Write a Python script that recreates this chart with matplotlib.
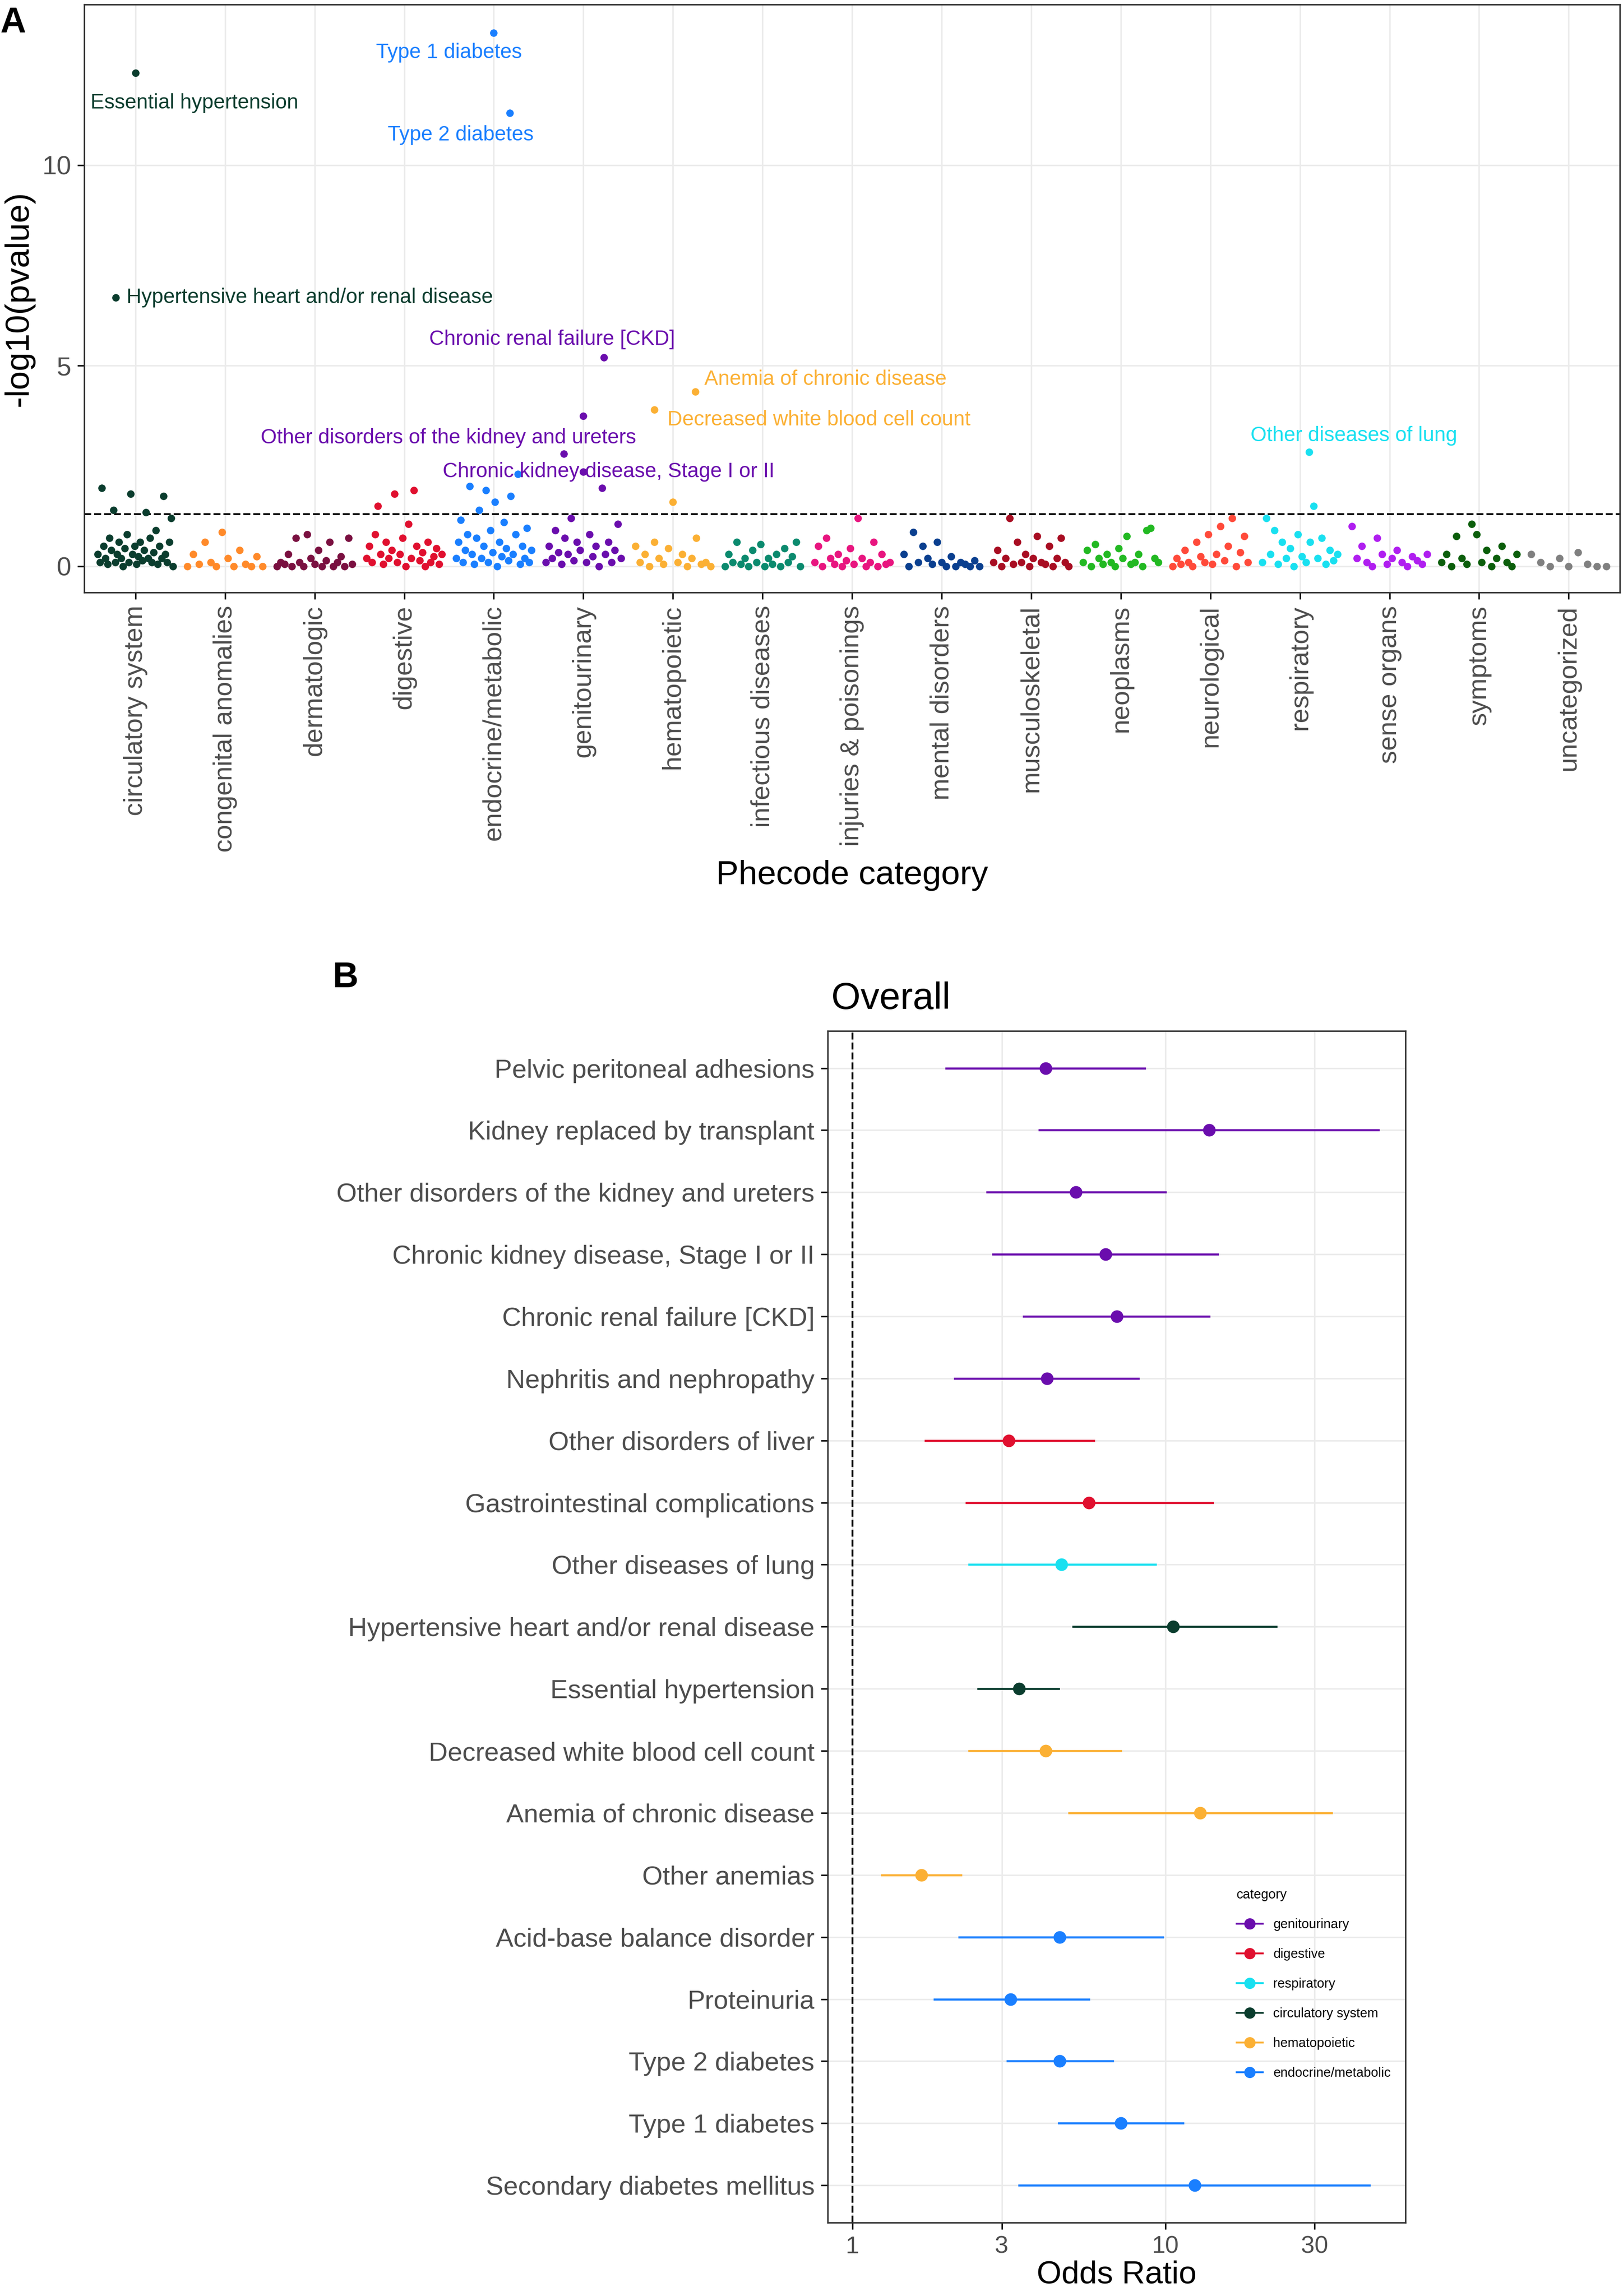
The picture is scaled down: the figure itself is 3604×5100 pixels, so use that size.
import numpy as np
import matplotlib.pyplot as plt
from matplotlib.lines import Line2D

plt.rcParams['font.family'] = ['Liberation Sans', 'DejaVu Sans']

# ---- panel A data ----
categories = ["circulatory system", "congenital anomalies", "dermatologic", "digestive",
              "endocrine/metabolic", "genitourinary", "hematopoietic", "infectious diseases",
              "injuries & poisonings", "mental disorders", "musculoskeletal", "neoplasms",
              "neurological", "respiratory", "sense organs", "symptoms", "uncategorized"]
cat_colors = ["#0B3D2E", "#FF8A2A", "#7A1040", "#E0102F", "#1A7FFF", "#6A0DAD", "#FBB034",
              "#0B8A6E", "#E8157F", "#0A3F8F", "#A80D22", "#22B922", "#FF4A3A", "#19E0F0",
              "#B01EF0", "#0B5E0B", "#808080"]

# -log10(p) of the unlabelled phecodes, in phecode order within each category
bg_vals = [
    [0.3, 0.1, 1.95, 0.5, 0.2, 0.05, 0.7, 0.4, 1.4, 0.1, 0.3, 0.6, 0.2, 0.0, 0.45, 0.8, 0.1, 1.8,
     0.3, 0.5, 0.05, 0.25, 0.6, 0.15, 0.4, 1.35, 0.2, 0.7, 0.1, 0.35, 0.9, 0.05, 0.5, 0.2, 1.75,
     0.3, 0.1, 0.6, 1.2, 0.0],
    [0.0, 0.3, 0.05, 0.6, 0.1, 0.0, 0.85, 0.2, 0.0, 0.4, 0.05, 0.0, 0.25, 0.0],
    [0.0, 0.1, 0.05, 0.3, 0.0, 0.7, 0.1, 0.0, 0.8, 0.2, 0.05, 0.4, 0.0, 0.15, 0.6, 0.0, 0.1,
     0.25, 0.0, 0.7, 0.05],
    [0.2, 0.5, 0.1, 0.8, 1.5, 0.3, 0.05, 0.6, 0.2, 0.4, 1.8, 0.1, 0.3, 0.7, 0.0, 1.05, 0.2,
     1.9, 0.5, 0.15, 0.35, 0.0, 0.6, 0.1, 0.25, 0.45, 0.05, 0.3],
    [0.2, 0.6, 1.15, 0.1, 0.4, 0.8, 2.0, 0.3, 0.05, 0.7, 1.4, 0.2, 0.5, 1.9, 0.1, 0.9, 0.35,
     1.6, 0.0, 0.6, 0.25, 1.1, 0.45, 0.15, 1.75, 0.3, 0.8, 2.3, 0.05, 0.5, 0.2, 0.95, 0.1,
     0.4],
    [0.1, 0.5, 0.2, 0.9, 0.35, 0.05, 0.7, 0.3, 1.2, 0.15, 0.6, 0.4, 2.35, 0.1, 0.8, 0.25,
     0.5, 0.0, 1.95, 0.3, 0.6, 0.1, 0.4, 1.05, 0.2],
    [0.5, 0.1, 0.3, 0.0, 0.6, 0.2, 0.05, 0.45, 1.6, 0.1, 0.3, 0.0, 0.2, 0.7, 0.05, 0.1, 0.0],
    [0.0, 0.3, 0.1, 0.6, 0.05, 0.2, 0.0, 0.4, 0.1, 0.55, 0.0, 0.2, 0.05, 0.3, 0.0, 0.45, 0.1,
     0.25, 0.6, 0.0],
    [0.1, 0.5, 0.0, 0.7, 0.2, 0.05, 0.3, 0.0, 0.15, 0.45, 0.05, 1.2, 0.2, 0.0, 0.1, 0.6, 0.0,
     0.3, 0.05, 0.1],
    [0.3, 0.0, 0.85, 0.1, 0.5, 0.2, 0.05, 0.6, 0.1, 0.0, 0.25, 0.0, 0.1, 0.05, 0.0, 0.15, 0.0],
    [0.1, 0.4, 0.0, 0.2, 1.2, 0.05, 0.6, 0.1, 0.3, 0.0, 0.2, 0.75, 0.1, 0.05, 0.5, 0.0, 0.2,
     0.7, 0.1, 0.0],
    [0.1, 0.4, 0.0, 0.55, 0.2, 0.05, 0.3, 0.1, 0.0, 0.45, 0.2, 0.75, 0.05, 0.1, 0.3, 0.0, 0.9,
     0.95, 0.2, 0.1],
    [0.0, 0.2, 0.05, 0.4, 0.1, 0.0, 0.6, 0.25, 0.1, 0.8, 0.05, 0.3, 1.0, 0.15, 0.5, 1.2,
     0.0, 0.35, 0.75, 0.1],
    [0.1, 1.2, 0.3, 0.9, 0.05, 0.6, 0.2, 0.45, 0.0, 0.8, 0.25, 0.1, 0.6, 1.5, 0.2, 0.7, 0.05,
     0.4, 0.15, 0.3],
    [1.0, 0.2, 0.5, 0.1, 0.0, 0.7, 0.3, 0.05, 0.2, 0.4, 0.1, 0.0, 0.25, 0.15, 0.05, 0.3],
    [0.1, 0.3, 0.0, 0.75, 0.2, 0.05, 1.05, 0.8, 0.1, 0.4, 0.0, 0.2, 0.5, 0.1, 0.0, 0.3],
    [0.3, 0.1, 0.0, 0.2, 0.0, 0.35, 0.05, 0.0, 0.0],
]

# labelled phecodes: category index, position within category, -log10(p), label
lab_cat = [0, 0, 4, 4, 5, 5, 5, 6, 6, 13]
lab_pos = [0.0, -0.22, 0.0, 0.18, 0.23, 0.0, -0.22, 0.25, -0.21, 0.1]
lab_val = [12.3, 6.7, 13.3, 11.3, 5.2, 3.75, 2.8, 4.35, 3.9, 2.85]
lab_text = ["Essential hypertension", "Hypertensive heart and/or renal disease",
            "Type 1 diabetes", "Type 2 diabetes", "Chronic renal failure [CKD]",
            "Other disorders of the kidney and ureters", "Chronic kidney disease, Stage I or II",
            "Anemia of chronic disease", "Decreased white blood cell count",
            "Other diseases of lung"]
lab_offset = [(-0.5, -0.75), (0.12, 0.0), (-0.5, -0.5), (-0.55, -0.55), (-1.95, 0.45),
              (-3.6, -0.55), (-1.35, -0.45), (0.1, 0.3), (0.15, -0.25), (-0.65, 0.4)]
lab_ha = ["left", "left", "center", "center", "left", "left", "left", "left", "left", "left"]

# ---- panel B data ----
or_labels = ["Pelvic peritoneal adhesions", "Kidney replaced by transplant",
             "Other disorders of the kidney and ureters", "Chronic kidney disease, Stage I or II",
             "Chronic renal failure [CKD]", "Nephritis and nephropathy", "Other disorders of liver",
             "Gastrointestinal complications", "Other diseases of lung",
             "Hypertensive heart and/or renal disease", "Essential hypertension",
             "Decreased white blood cell count", "Anemia of chronic disease", "Other anemias",
             "Acid-base balance disorder", "Proteinuria", "Type 2 diabetes", "Type 1 diabetes",
             "Secondary diabetes mellitus"]
or_cat = ["genitourinary"] * 6 + ["digestive", "digestive", "respiratory",
          "circulatory system", "circulatory system", "hematopoietic", "hematopoietic",
          "hematopoietic"] + ["endocrine/metabolic"] * 5
or_est = [4.14, 13.8, 5.18, 6.43, 7.0, 4.18, 3.16, 5.7, 4.66, 10.6, 3.41, 4.14, 12.9, 1.66,
          4.6, 3.2, 4.6, 7.2, 12.4]
or_lo = [1.99, 3.96, 2.69, 2.81, 3.52, 2.12, 1.71, 2.31, 2.36, 5.08, 2.52, 2.36, 4.92, 1.24,
         2.19, 1.83, 3.13, 4.56, 3.41]
or_hi = [8.6, 48, 10.0, 14.7, 13.8, 8.2, 5.9, 14.2, 9.3, 22.6, 4.56, 7.2, 34, 2.22, 9.8,
         5.7, 6.8, 11.4, 45]
legend_order = ["genitourinary", "digestive", "respiratory", "circulatory system",
                "hematopoietic", "endocrine/metabolic"]

fig = plt.figure(figsize=(3604 / 300, 5100 / 300), dpi=300)
col = dict(zip(categories, cat_colors))

# ---- panel A ----
ax = fig.add_axes([0.052, 0.742, 0.946, 0.256])
for i, vals in enumerate(bg_vals):
    n = len(vals)
    xs = i + np.linspace(-0.42, 0.42, n)
    ax.scatter(xs, vals, s=16, color=cat_colors[i], zorder=3, linewidths=0)
for c, p, v, t, off, ha in zip(lab_cat, lab_pos, lab_val, lab_text, lab_offset, lab_ha):
    ax.scatter(c + p, v, s=16, color=cat_colors[c], zorder=3, linewidths=0)
    ax.text(c + p + off[0], v + off[1], t, color=cat_colors[c], fontsize=11,
            ha=ha, va="center", zorder=4)
ax.axhline(1.3, color="black", ls="--", lw=1)
ax.set_xlim(-0.57, 16.57)
ax.set_ylim(-0.65, 14)
ax.set_yticks([0, 5, 10])
ax.set_xticks(range(len(categories)))
ax.set_xticklabels(categories, rotation=90, fontsize=14, color="#4D4D4D")
ax.tick_params(axis="y", labelsize=14, labelcolor="#4D4D4D")
ax.set_ylabel("-log10(pvalue)", fontsize=18)
ax.set_xlabel("Phecode category", fontsize=18)
ax.grid(color="#EBEBEB", lw=0.8)
ax.set_axisbelow(True)
for s in ax.spines.values():
    s.set_color("#333333")
fig.text(0.0, 0.99, "A", fontsize=19, fontweight="bold", va="center")

# ---- panel B ----
bx = fig.add_axes([0.51, 0.032, 0.356, 0.519])
ys = np.arange(len(or_labels))[::-1]
for y, e, lo, hi, c in zip(ys, or_est, or_lo, or_hi, or_cat):
    bx.plot([lo, hi], [y, y], color=col[c], lw=1.1, zorder=3)
    bx.scatter(e, y, s=45, color=col[c], zorder=4, linewidths=0)
bx.axvline(1, color="black", ls="--", lw=1)
bx.set_xscale("log")
bx.set_xlim(0.833, 58.6)
bx.set_ylim(-0.6, len(or_labels) - 0.4)
bx.set_xticks([1, 3, 10, 30])
bx.set_xticklabels(["1", "3", "10", "30"])
bx.minorticks_off()
bx.set_yticks(ys)
bx.set_yticklabels(or_labels, fontsize=14, color="#4D4D4D")
bx.tick_params(axis="x", labelsize=13, labelcolor="#4D4D4D")
bx.set_xlabel("Odds Ratio", fontsize=17, labelpad=1)
bx.grid(color="#EBEBEB", lw=0.8)
bx.set_axisbelow(True)
for s in bx.spines.values():
    s.set_color("#333333")
fig.text(0.549, 0.565, "Overall", fontsize=20, ha="center", va="center")
handles = [Line2D([0], [0], color=col[c], marker="o", ms=5, lw=1) for c in legend_order]
leg = bx.legend(handles, legend_order, title="category", loc="upper right",
                bbox_to_anchor=(0.995, 0.29), fontsize=7, title_fontsize=7, frameon=False,
                handlelength=2, labelspacing=1.3)
leg._legend_box.align = "left"
fig.text(0.205, 0.574, "B", fontsize=19, fontweight="bold", va="center")

fig.savefig("out.png", dpi=300)
